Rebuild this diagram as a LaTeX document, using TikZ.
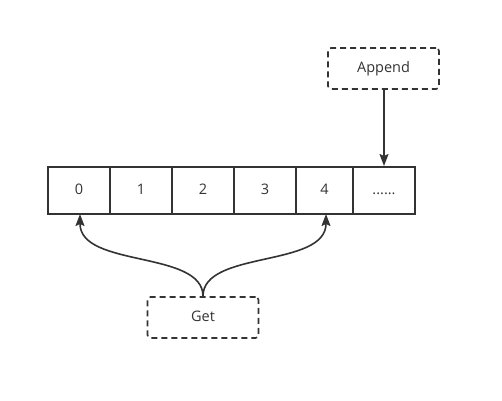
\documentclass[tikz,border=0pt]{standalone}
\usepackage{fontspec}
\setmainfont{Open Sans}
\usetikzlibrary{arrows.meta}
\definecolor{ink}{HTML}{333333}
\tikzset{
  txt/.style={font=\fontsize{14.5}{17}\selectfont, text=ink, text height=0.714em, text depth=0pt},
  cell/.style={txt, draw=ink, line width=1.6pt, minimum height=47pt, inner sep=0pt},
  dbox/.style={txt, draw=ink, line width=1.6pt, dash pattern=on 6pt off 4pt, rounded corners=3pt, minimum width=111pt, minimum height=41pt, inner sep=0pt},
  conn/.style={draw=ink, line width=1.6pt, -{Stealth[length=12pt,width=9pt,inset=2pt]}}
}
\begin{document}
\begin{tikzpicture}[x=1pt,y=-1pt]
\useasboundingbox (0,0) rectangle (502,400);
\node[cell, minimum width=62pt] (c0) at (79,190.5) {0};
\node[cell, minimum width=62pt] (c1) at (141,190.5) {1};
\node[cell, minimum width=62pt] (c2) at (203,190.5) {2};
\node[cell, minimum width=62pt] (c3) at (265,190.5) {3};
\node[cell, minimum width=57pt] (c4) at (324.5,190.5) {4};
\node[cell, minimum width=62pt] (c5) at (384,190.5) {......};
\node[dbox] (app) at (383.5,68.5) {Append};
\node[dbox] (get) at (203,317.5) {Get};
\coordinate (t0) at (80,214);
\coordinate (t4) at (326,214);
\coordinate (ta) at (384,166);
\draw[conn] (app.south -| ta) -- (ta);
\draw[conn] (get.north) .. controls (203,250) and (80,268) .. (t0);
\draw[conn] (get.north) .. controls (203,250) and (326,268) .. (t4);
\end{tikzpicture}
\end{document}
